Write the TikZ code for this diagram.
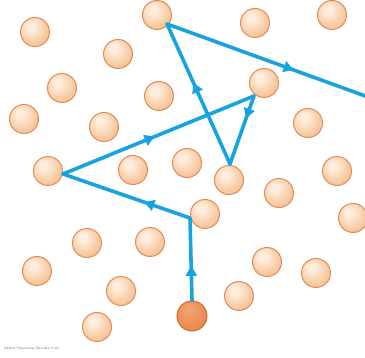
\documentclass[tikz,border=0pt]{standalone}
\usetikzlibrary{arrows.meta,decorations.markings}
\definecolor{lineblue}{RGB}{22,163,224}
\definecolor{peachin}{RGB}{254,238,222}
\definecolor{peachmid}{RGB}{248,204,164}
\definecolor{peachout}{RGB}{240,168,112}
\definecolor{peachedge}{RGB}{224,140,86}
\definecolor{darkin}{RGB}{242,166,114}
\definecolor{darkout}{RGB}{228,126,64}
\definecolor{darkedge}{RGB}{210,108,52}
\pgfdeclareradialshading{peachsh}{\pgfpoint{-8bp}{10bp}}{color(0bp)=(peachin); color(6bp)=(peachin); color(24bp)=(peachmid); color(48bp)=(peachout); color(70bp)=(peachout)}
\pgfdeclareradialshading{darksh}{\pgfpoint{-6bp}{10bp}}{color(0bp)=(darkin); color(40bp)=(darkout); color(66bp)=(darkout)}
\tikzset{
  ball/.style={circle, minimum size=29pt, inner sep=0pt, shading=peachsh, draw=peachedge, line width=1pt},
  startball/.style={circle, minimum size=30pt, inner sep=0pt, shading=darksh, draw=darkedge, line width=1pt},
  seg/.style={draw=lineblue, line width=3.6pt, line cap=round, postaction={decorate},
    decoration={markings, mark=at position #1 with {\arrow[lineblue]{Triangle[length=10pt,width=11pt]}}}}
}
\begin{document}
\begin{tikzpicture}[x=1pt,y=-1pt]
\useasboundingbox (0,0) rectangle (365,358);
\fill[white] (0,0) rectangle (365,358);
% balls
\node[ball] (b1) at (35,32) {};
\node[ball] (b2) at (157,15) {};
\node[ball] (b3) at (118,54) {};
\node[ball] (b4) at (62,88) {};
\node[ball] (b5) at (159,96) {};
\node[ball] (b6) at (24,119) {};
\node[ball] (b7) at (104,127) {};
\node[ball] (b8) at (48,171) {};
\node[ball] (b9) at (133,170) {};
\node[ball] (b10) at (255,23) {};
\node[ball] (b11) at (332,15) {};
\node[ball] (b12) at (264,83) {};
\node[ball] (b13) at (308,123) {};
\node[ball] (b14) at (337,171) {};
\node[ball] (b15) at (187,163) {};
\node[ball] (b16) at (229,180) {};
\node[ball] (b17) at (279,193) {};
\node[ball] (b18) at (205,214) {};
\node[ball] (b19) at (353,218) {};
\node[ball] (b20) at (87,243) {};
\node[ball] (b21) at (150,242) {};
\node[ball] (b22) at (37,271) {};
\node[ball] (b23) at (267,262) {};
\node[ball] (b24) at (316,273) {};
\node[ball] (b25) at (121,291) {};
\node[ball] (b26) at (239,296) {};
\node[ball] (b27) at (97,327) {};
\node[startball] (s) at (192,316) {};
% path vertices
\coordinate (v1) at (190,218);
\coordinate (v2) at (63,174);
\coordinate (v3) at (254,96);
\coordinate (v4) at (230,164);
\coordinate (v5) at (167,24);
\coordinate (v6) at (368,97);
\draw[seg=0.42] (s.north) -- (v1);
\draw[seg=0.36] (v1) -- (v2);
\draw[seg=0.48] (v2) -- (v3);
\draw[seg=0.33] (v3) -- (v4);
\draw[seg=0.58] (v4) -- (v5);
\draw[seg=0.63] (v5) -- (v6);
\node[anchor=west, inner sep=0pt, font=\fontsize{3.2}{3.5}\selectfont, text=black!70] (copy) at (4,349) {\copyright 2004 Thomson/Brooks Cole};
\end{tikzpicture}
\end{document}
